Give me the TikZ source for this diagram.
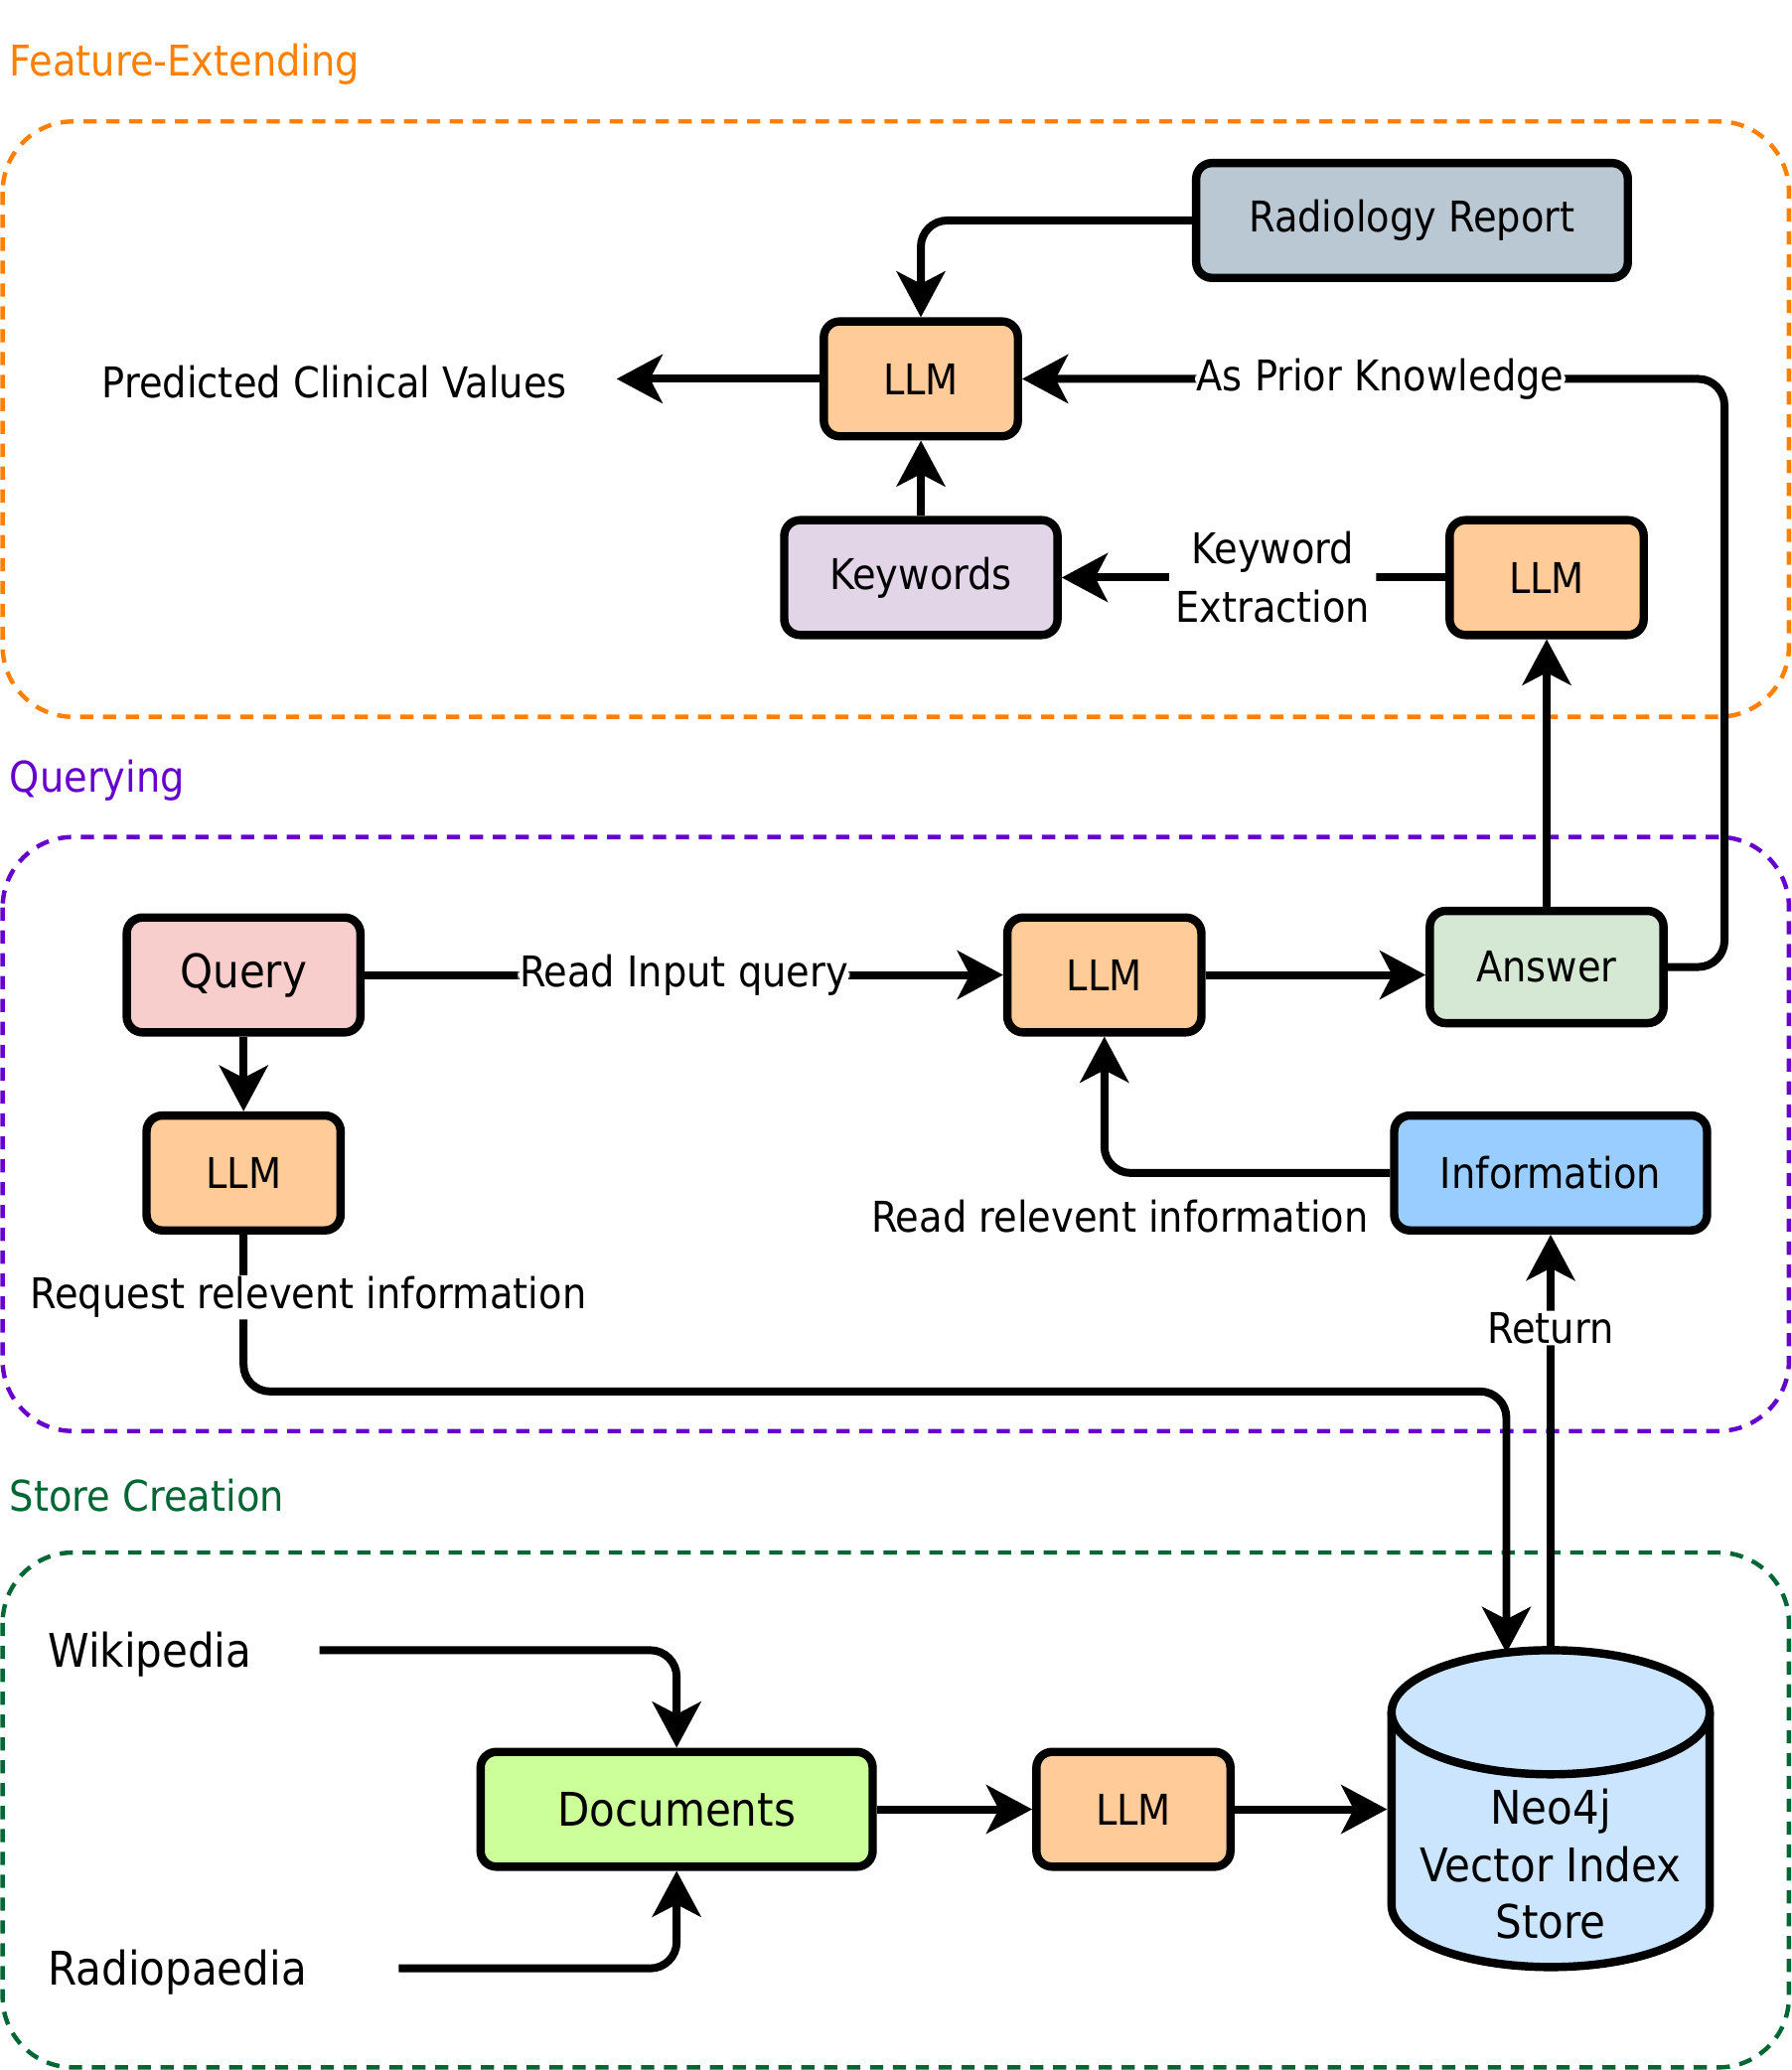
\documentclass[tikz,border=0pt]{standalone}
\usepackage{fontspec}
\setmainfont{DejaVu Sans Condensed}
\usetikzlibrary{arrows.meta}

\newlength{\pxu}\setlength{\pxu}{0.15mm}

\definecolor{featclr}{HTML}{FF8000}
\definecolor{queryclr}{HTML}{6600CC}
\definecolor{storeclr}{HTML}{006633}
\definecolor{llmfill}{HTML}{FFCC99}
\definecolor{reportfill}{HTML}{BAC8D3}
\definecolor{kwfill}{HTML}{E1D5E7}
\definecolor{answerfill}{HTML}{D5E8D4}
\definecolor{queryfill}{HTML}{F8CECC}
\definecolor{infofill}{HTML}{99CCFF}
\definecolor{docfill}{HTML}{CCFF99}
\definecolor{dbfill}{HTML}{CCE5FF}

\newcommand{\basefont}{\fontsize{13.7}{19}\selectfont}
\newcommand{\bigfont}{\fontsize{15}{18.4}\selectfont}

\tikzset{
  box/.style={draw, line width=0.95mm, rounded corners=1.8mm, minimum height=87\pxu, inner sep=0pt, font=\basefont},
  llm/.style={box, fill=llmfill, minimum width=147\pxu},
  arr/.style={line width=0.9mm, rounded corners=3mm, -{Stealth[length=5.2mm,width=5.5mm,inset=1.4mm]}},
  lbl/.style={fill=white, inner sep=0.5pt, font=\basefont, align=center},
  txt/.style={inner sep=0pt, font=\bigfont},
  grp/.style={line width=0.5mm, dash pattern=on 1.5mm off 1.1mm, rounded corners=8mm},
  grptitle/.style={inner sep=0pt, anchor=west, font=\basefont},
}

\begin{document}
\begin{tikzpicture}[x=\pxu, y=-\pxu]
\useasboundingbox (0,0) rectangle (1357,1568);

% groups
\node[grptitle, text=featclr] (featt) at (7,49) {Feature-Extending};
\draw[grp, draw=featclr] (2,92) rectangle (1355,543);
\node[grptitle, text=queryclr] (queryt) at (7,591) {Querying};
\draw[grp, draw=queryclr] (2,634) rectangle (1355,1084);
\node[grptitle, text=storeclr] (storet) at (7,1133) {Store Creation};
\draw[grp, draw=storeclr] (2,1176) rectangle (1355,1566);

% feature-extending
\node[box, fill=reportfill, minimum width=327\pxu] (report) at (1069.5,167) {Radiology Report};
\node[llm] (llmfe) at (697.5,287) {LLM};
\node[box, fill=kwfill, minimum width=207\pxu] (kw) at (697.5,437.5) {Keywords};
\node[llm] (llmkw) at (1171.5,437.5) {LLM};
\node[txt, font=\basefont, anchor=east] (pred) at (430,289) {Predicted Clinical Values};

% querying
\node[box, fill=queryfill, minimum width=177\pxu, font=\bigfont] (query) at (184.5,738.5) {Query};
\node[llm] (llmq) at (836.5,738.5) {LLM};
\node[box, fill=answerfill, minimum width=177\pxu, minimum height=85\pxu] (answer) at (1171.5,732.5) {Answer};
\node[llm] (llmreq) at (184.5,888.5) {LLM};
\node[box, fill=infofill, minimum width=237\pxu] (info) at (1174.5,888.5) {Information};
\node[txt, font=\basefont, anchor=east] (readrel) at (1037,921) {Read relevent information};

% store creation
\node[txt, anchor=west] (wiki) at (36,1253) {Wikipedia};
\node[txt, anchor=west] (radio) at (36,1494) {Radiopaedia};
\node[box, fill=docfill, minimum width=297\pxu, font=\bigfont] (docs) at (512.5,1370.5) {Documents};
\node[llm] (llmst) at (858.5,1370.5) {LLM};
\filldraw[fill=dbfill, line width=0.95mm] (1054,1297) -- (1054,1443)
  arc[start angle=180, end angle=360, x radius=120.5\pxu, y radius=47\pxu] -- (1295,1297);
\filldraw[fill=dbfill, line width=0.95mm] (1174.5,1297) ellipse[x radius=120.5\pxu, y radius=47\pxu];
\node[txt, align=center, minimum width=241\pxu, outer sep=0.5mm] (db) at (1174.5,1412) {Neo4j\\Vector Index\\Store};
\coordinate (dbtop) at (1174.5,1250);
\coordinate (dbin) at (1141,1252);
\coordinate (reqbend) at (1141,1054);
\coordinate (wikiout) at (242,1250);
\coordinate (radioout) at (302,1491);

% connectors
\draw[arr] (report.west) -| (llmfe.north);
\draw[arr] (llmfe.west) -- ([xshift=37\pxu]pred.east |- llmfe.west);
\draw[arr] (kw.north) -- (llmfe.south);
\draw[arr] (llmkw.west) -- node[lbl, pos=0.45, inner sep=2pt] {Keyword\\Extraction} (kw.east);
\draw[arr] (answer.north) -- (llmkw.south);
\draw[arr] (answer.east) -- ++(43,0) |- node[lbl, pos=0.745] {As Prior Knowledge} (llmfe.east);
\draw[arr] (query.east) -- node[lbl] {Read Input query} (llmq.west);
\draw[arr] (llmq.east) -- (llmq.east -| answer.west);
\draw[arr] (query.south) -- (llmreq.north);
\draw[arr] (info.west) -| (llmq.south);
\draw[arr] (llmreq.south) |- node[lbl, pos=0.2, xshift=49\pxu] {Request relevent information} (reqbend) -- (dbin);
\draw[arr] (dbtop) -- node[lbl, pos=0.775] {Return} (info.south);
\draw[arr] (wikiout) -| (docs.north);
\draw[arr] (radioout) -| (docs.south);
\draw[arr] (docs.east) -- (llmst.west);
\draw[arr] (llmst.east) -- (llmst.east -| db.west);
\end{tikzpicture}
\end{document}
